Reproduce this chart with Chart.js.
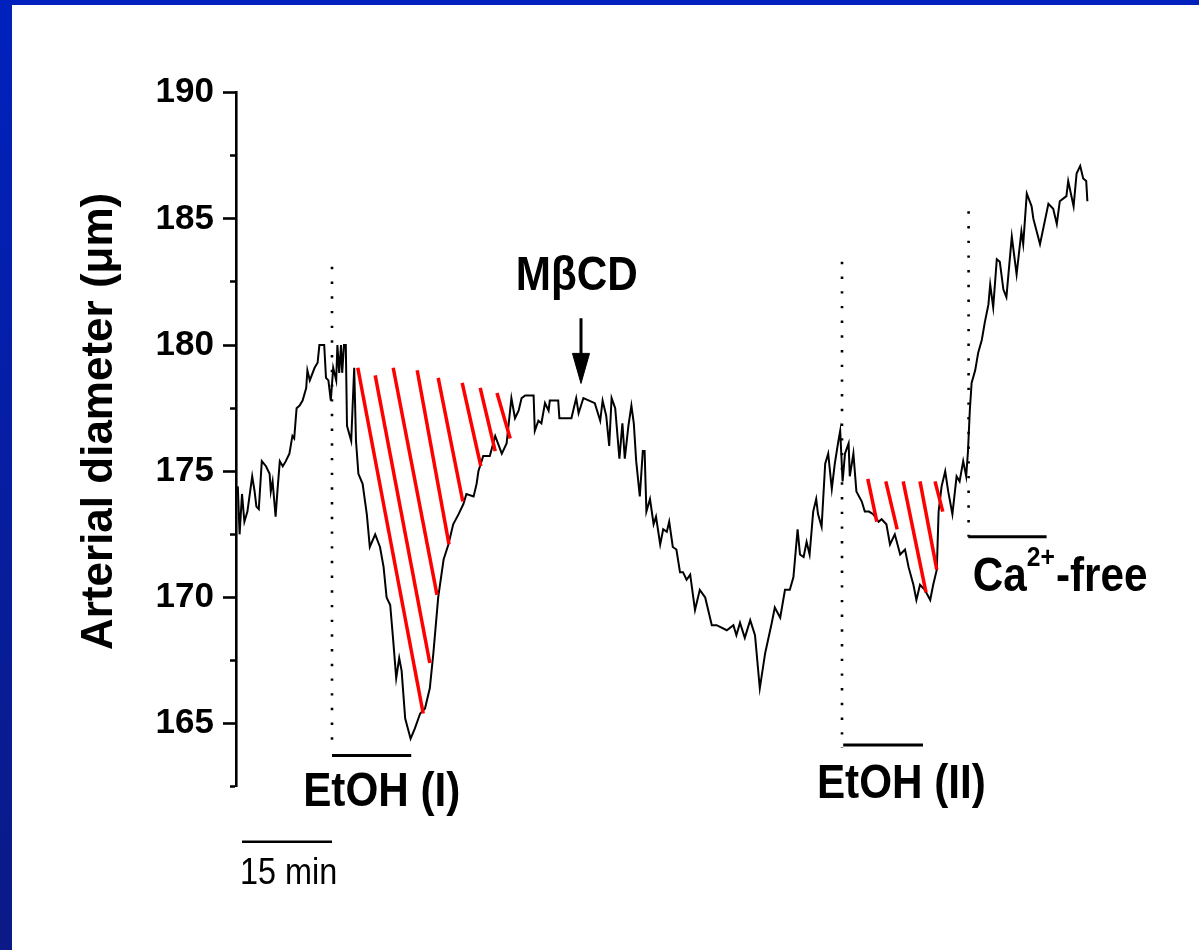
<!DOCTYPE html>
<html><head><meta charset="utf-8">
<script src="https://cdn.jsdelivr.net/npm/chart.js@4.4.1/dist/chart.umd.min.js"></script>
<style>
html,body{margin:0;padding:0;background:#fff;width:1199px;height:950px;overflow:hidden;}
#topband{position:absolute;left:0;top:0;width:1199px;height:5px;background:#0021bd;}
#leftband{position:absolute;left:0;top:0;width:12px;height:950px;background:linear-gradient(#0021bd,#0b1a86);}
#wrap{position:absolute;left:0;top:0;width:1199px;height:950px;}
</style></head><body>
<div id="topband"></div><div id="leftband"></div>
<div id="wrap"><canvas id="c"></canvas></div>
<script>
// ---- trace: time (min) and arterial diameter (µm) ----
const traceTime = [
0.3,0.6,1.0,1.4,1.9,2.7,3.1,3.4,3.8,4.3,
5.0,5.6,5.8,6.1,6.6,6.9,7.3,7.8,8.3,8.9,
9.4,9.7,10.1,10.6,11.1,11.7,11.9,12.3,13.1,13.6,
13.9,14.3,14.7,15.0,15.4,15.8,16.2,16.7,16.9,17.2,
17.5,17.7,18.0,18.3,18.5,19.2,19.7,20.0,20.4,21.1,
21.8,22.3,23.2,24.0,24.6,25.1,25.7,26.2,26.7,27.2,
27.6,28.2,29.1,29.8,30.7,31.5,32.3,32.9,33.7,34.6,
35.4,36.2,37.1,37.9,38.4,39.6,40.1,40.4,41.2,42.3,
43.2,44.3,45.1,45.9,46.5,47.1,47.6,48.2,49.6,49.8,
50.4,50.9,51.5,52.1,52.3,53.7,53.9,55.9,56.1,56.7,
57.1,57.9,59.8,60.7,61.1,61.7,62.2,62.6,63.2,63.9,
64.4,64.8,65.4,65.9,66.3,66.7,67.3,67.8,68.1,68.4,
69.0,69.6,70.0,70.7,71.2,71.8,72.2,72.8,73.4,74.0,
74.5,75.1,75.7,76.5,77.3,78.2,79.3,80.1,81.8,82.9,
83.4,84.0,84.8,85.7,86.5,87.3,88.2,89.3,89.8,90.7,
91.5,92.3,92.9,93.6,94.0,94.6,95.1,95.6,96.2,96.7,
97.0,97.6,98.2,98.7,99.3,99.8,100.4,100.7,101.1,101.5,
102.1,102.3,102.9,103.4,104.3,104.8,105.5,106.2,107.1,107.6,
108.4,109.0,109.8,110.7,111.5,112.1,112.9,113.4,114.0,114.8,
115.7,116.2,116.8,117.1,117.6,118.2,118.7,119.4,120.1,120.6,
121.2,121.7,122.0,122.3,122.6,123.2,123.7,124.3,124.8,125.4,
125.7,126.2,126.8,127.3,127.9,128.4,129.3,130.1,130.9,131.2,
131.8,132.6,132.9,134.0,135.4,136.2,136.8,137.3,138.4,138.7,
139.6,140.1,140.7,141.2,141.7,141.9];
const traceDiameter = [
174.4,172.5,174.1,173.0,173.4,174.8,174.2,173.6,173.5,175.4,
175.2,174.9,174.2,174.6,173.2,174.2,175.4,175.2,175.4,175.7,
176.4,176.3,177.5,177.6,177.8,178.3,179.0,178.6,179.1,179.3,
180.0,180.0,180.0,178.7,178.6,177.8,179.1,178.6,180.0,178.9,
180.0,178.9,180.0,180.0,176.8,176.2,179.1,176.2,174.9,174.5,
173.3,172.0,172.5,172.0,171.2,170.0,169.7,168.3,166.8,167.6,
167.1,165.2,164.4,164.8,165.4,165.6,166.4,167.8,170.0,171.5,
172.1,172.9,173.3,173.7,174.1,174.0,174.5,175.0,175.6,175.6,
176.4,175.7,176.1,177.9,177.1,177.4,177.9,178.0,178.0,176.6,
177.0,176.9,177.7,177.4,177.8,177.8,177.1,177.1,177.3,177.9,
177.3,177.9,177.7,177.0,177.8,177.2,176.0,177.9,177.5,175.5,
176.9,175.5,176.8,177.6,176.9,175.4,174.0,175.8,175.8,173.4,
173.9,172.9,173.2,172.1,172.7,172.6,173.0,172.0,171.9,171.0,
171.0,170.7,170.9,169.5,170.3,170.0,168.9,168.9,168.7,168.9,
168.5,169.0,168.4,169.1,168.5,166.4,167.8,169.0,169.6,169.2,
170.3,170.3,170.8,172.7,171.7,171.6,172.2,171.7,173.4,173.9,
173.3,172.8,175.3,175.7,174.3,175.3,176.2,176.6,174.6,175.7,
176.1,174.8,175.7,174.2,173.8,173.4,173.4,173.3,173.0,173.1,
172.9,172.1,172.5,171.7,171.9,171.2,170.5,169.9,170.5,170.3,
169.9,170.5,171.1,173.4,174.4,175.0,174.2,173.3,174.8,174.6,
175.4,174.8,175.8,177.4,178.5,179.0,179.7,180.2,180.9,181.6,
182.4,181.5,183.4,183.3,182.2,181.9,184.3,182.8,184.5,184.0,
186.0,185.5,185.0,184.0,185.6,185.4,184.8,185.7,185.9,186.5,
185.5,186.8,187.1,186.6,186.5,185.7];

// ---- red hatching (start = upper end, end = on the trace) ----
const hatchStartTime = [20.3,23.2,26.2,30.2,33.7,37.7,40.7,43.5, 105.3,108.3,111.2,114.0,116.5];
const hatchStartDiam = [179.1,178.8,179.1,179.0,178.7,178.5,178.3,178.1, 174.7,174.6,174.6,174.6,174.6];
const hatchEndTime   = [31.2,32.3,33.5,35.5,37.8,40.8,43.2,45.7, 106.8,110.2,115.0,116.8,117.8];
const hatchEndDiam   = [165.4,167.4,170.1,172.1,173.8,175.2,175.8,176.3, 173.0,172.7,170.2,171.1,173.4];

// ---- dotted application markers ----
const markerTime   = [16.0, 101.0, 122.1];
const markerTop    = [183.1, 183.3, 185.3];
const markerBottom = [164.3, 164.05, 172.4];

// ---- application bars + labels ----
const barLabels = ['EtOH (I)', 'EtOH (II)', 'Ca2+-free'];
const barStart  = [16.0, 101.2, 122.05];
const barEnd    = [29.2, 114.5, 135.1];
const barLevel  = [163.74, 164.15, 172.4];
const labelTime = [24.3, 110.9, 122.8];
const labelDiam = [161.73, 162.06, 170.27];

// ---- MβCD arrow ----
const arrowTime = [57.5];
const arrowTop = [181.06];
const arrowTip = [178.48];
const arrowHeadBase = [179.67];
const arrowHeadHalf = [1.42];
const arrowLabel = 'MβCD';
const arrowLabelTime = [56.8];
const arrowLabelDiam = [182.17];

// ---- time scale bar ----
const scaleBarStart = [1];
const scaleBarEnd = [16];
const scaleBarLevel = [160.32];
const scaleBarLabel = '15 min';
const scaleBarLabelDiam = [158.65];

// ---- y axis ----
const yMin = 162.5, yMax = 190, yStep = 2.5;
const yTitle = 'Arterial diameter (μm)';

const FAM = "'Liberation Sans', Arial, Helvetica, sans-serif";

const datasets = [];
datasets.push({
  label:'trace', data: traceTime.map((t,i)=>({x:t,y:traceDiameter[i]})),
  borderColor:'#000', borderWidth:2, pointRadius:0, tension:0, order:2, borderJoinStyle:'miter'
});
hatchStartTime.forEach((t,i)=>{
  datasets.push({label:'hatch'+i, data:[{x:t,y:hatchStartDiam[i]},{x:hatchEndTime[i],y:hatchEndDiam[i]}],
    borderColor:'#ff0000', borderWidth:3.5, pointRadius:0, order:1, borderCapStyle:'butt'});
});
markerTime.forEach((t,i)=>{
  datasets.push({label:'marker'+i, data:[{x:t,y:markerTop[i]},{x:t,y:markerBottom[i]}],
    borderColor:'#000', borderWidth:2.6, borderDash:[2.4,12.3], pointRadius:0, order:3, clip:false});
});
barStart.forEach((t,i)=>{
  datasets.push({label:'bar'+i, data:[{x:t,y:barLevel[i]},{x:barEnd[i],y:barLevel[i]}],
    borderColor:'#000', borderWidth:3, pointRadius:0, order:3, clip:false});
});
datasets.push({label:'scalebar', data:[{x:scaleBarStart[0],y:scaleBarLevel[0]},{x:scaleBarEnd[0],y:scaleBarLevel[0]}],
  borderColor:'#000', borderWidth:2.6, pointRadius:0, order:3, clip:false});
datasets.push({label:'arrowShaft', data:[{x:arrowTime[0],y:arrowTop[0]},{x:arrowTime[0],y:arrowHeadBase[0]-0.1}],
  borderColor:'#000', borderWidth:3, pointRadius:0, order:0, clip:false});
datasets.push({label:'arrowHead', data:[
    {x:arrowTime[0]-arrowHeadHalf[0],y:arrowHeadBase[0]},
    {x:arrowTime[0],y:arrowTip[0]},
    {x:arrowTime[0]+arrowHeadHalf[0],y:arrowHeadBase[0]},
    {x:arrowTime[0]-arrowHeadHalf[0],y:arrowHeadBase[0]}],
  borderColor:'#000', borderWidth:1, backgroundColor:'#000', fill:'shape', pointRadius:0, order:0, clip:false});

function drawText(ctx, text, x, y, size, weight, squeeze, align){
  ctx.save();
  ctx.font = weight+' '+size+'px '+FAM;
  ctx.textBaseline='alphabetic'; ctx.textAlign='left'; ctx.fillStyle='#000';
  const w = ctx.measureText(text).width*squeeze;
  const left = align==='center' ? x-w/2 : x;
  ctx.translate(left,y); ctx.scale(squeeze,1); ctx.fillText(text,0,0);
  ctx.restore();
  return w;
}

const annotations = {
  id:'annotations',
  afterDatasetsDraw(chart){
    const ctx = chart.ctx, xs = chart.scales.x, ys = chart.scales.y;
    const SQ = 0.88;
    drawText(ctx, arrowLabel, xs.getPixelForValue(arrowLabelTime[0]), ys.getPixelForValue(arrowLabelDiam[0]), 48, 'bold', SQ, 'center');
    for (let i=0;i<2;i++){
      drawText(ctx, barLabels[i], xs.getPixelForValue(labelTime[i]), ys.getPixelForValue(labelDiam[i]), 48, 'bold', SQ, 'center');
    }
    let x = xs.getPixelForValue(labelTime[2]);
    const yb = ys.getPixelForValue(labelDiam[2]);
    x += drawText(ctx, 'Ca', x, yb, 48, 'bold', SQ, 'left');
    x += drawText(ctx, '2+', x, yb-25, 28, 'bold', SQ, 'left');
    drawText(ctx, '-free', x+1, yb, 48, 'bold', SQ, 'left');
    drawText(ctx, scaleBarLabel, xs.getPixelForValue(scaleBarStart[0])-2, ys.getPixelForValue(scaleBarLabelDiam[0]), 36, 'normal', 0.9, 'left');
  }
};

const isMajor = v => Math.abs(v/5 - Math.round(v/5)) < 1e-6;

new Chart(document.getElementById('c'), {
  type:'line',
  data:{datasets},
  options:{
    responsive:true, maintainAspectRatio:false, animation:false, events:[],
    layout:{padding:{left:50, top:92.7, right:63, bottom:163.3}},
    plugins:{legend:{display:false}, tooltip:{enabled:false}},
    scales:{
      x:{type:'linear', min:0, max:150, display:false},
      y:{type:'linear', min:yMin, max:yMax, position:'left',
        afterFit(scale){ scale.width = 186; },
        border:{display:true, color:'#000', width:2.6},
        grid:{display:true, drawOnChartArea:false, drawTicks:true, tickLength:13, tickWidth:2.6, tickColor:'#000',
          tickBorderDash: c => (c.tick && isMajor(c.tick.value)) ? [] : [0,7,30,100]},
        ticks:{stepSize:yStep, autoSkip:false, color:'#000', padding:9,
          font:{family:FAM, size:35, weight:'bold'},
          callback: v => isMajor(v) ? String(Math.round(v)) : ''},
        title:{display:true, text:'   ' + yTitle, color:'#000', padding:{top:23,bottom:0},
          font:{family:FAM, size:44, weight:'bold'}}
      }
    }
  },
  plugins:[annotations]
});
</script>
</body></html>
